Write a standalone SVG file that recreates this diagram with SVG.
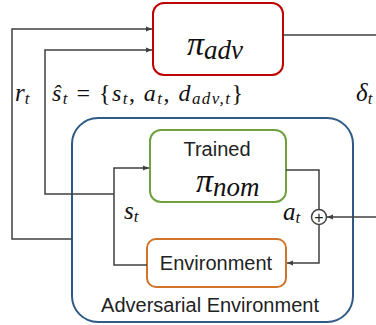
<svg xmlns="http://www.w3.org/2000/svg" width="376" height="325" viewBox="0 0 376 325">
<style>
.box{fill:#fff;stroke-width:2}
.ln{fill:none;stroke:#404040;stroke-width:1.5}
.arr{marker-end:url(#ah)}
.sans{font-family:"Liberation Sans",Arial,sans-serif;fill:#222;font-size:20px}
.math{font-family:"Liberation Serif","DejaVu Serif",serif;font-style:italic;fill:#111}
</style>
<defs>
<marker id="ah" viewBox="0 0 10 10" refX="10" refY="5" markerWidth="6" markerHeight="6" markerUnits="userSpaceOnUse" orient="auto">
<path d="M0,1 L10,5 L0,9 Z" fill="#404040"/>
</marker>
</defs>
<rect width="376" height="325" fill="#fff"/>
<g id="adv-env">
<rect class="box" x="72" y="118" width="281" height="204" rx="26" stroke="#2E5A87"/>
<text class="sans" x="210" y="312" text-anchor="middle">Adversarial Environment</text>
</g>
<g id="pi-adv">
<rect class="box" x="153" y="3" width="130" height="72" rx="11" stroke="#C00000"/>
<text class="math" x="187" y="55" font-size="34">π<tspan font-size="27" dy="4">adv</tspan></text>
</g>
<g id="trained">
<rect class="box" x="150" y="130" width="136" height="72" rx="11" stroke="#70A140"/>
<text class="sans" x="217" y="156" text-anchor="middle">Trained</text>
<text class="math" x="196" y="192" font-size="34">π<tspan font-size="27" dy="4">nom</tspan></text>
</g>
<g id="environment">
<rect class="box" x="147" y="239" width="139" height="48" rx="9" stroke="#D0742C"/>
<text class="sans" x="216" y="270" text-anchor="middle">Environment</text>
</g>
<g id="sum">
<circle cx="319" cy="217" r="7.5" fill="#fff" stroke="#404040" stroke-width="1.5"/>
<text x="319" y="222.5" font-family="'Liberation Sans',sans-serif" font-size="16" text-anchor="middle" fill="#222">+</text>
</g>
<g id="connectors">
<path class="ln arr" d="M72,239 H12 V29 H152"/>
<path class="ln arr" d="M114,194 H45 V50 H152"/>
<path class="ln arr" d="M147,265 H114 V168 H149"/>
<path class="ln" d="M286,170 H319 V209.5"/>
<path class="ln arr" d="M319,224.5 V263 H287"/>
<path class="ln arr" d="M376,217 H327"/>
<path class="ln" d="M283,35 H376"/>
</g>
<g id="labels" class="math">
<text x="15" y="101" font-size="25">r<tspan font-size="17" dy="3">t</tspan></text>
<text x="52" y="101" font-size="24" textLength="191" lengthAdjust="spacing">ŝ<tspan font-size="17" dy="3">t</tspan><tspan dy="-3" font-style="normal"> = {</tspan>s<tspan font-size="17" dy="3">t</tspan><tspan dy="-3" font-style="normal">, </tspan>a<tspan font-size="17" dy="3">t</tspan><tspan dy="-3" font-style="normal">, </tspan>d<tspan font-size="17" dy="3">adv,t</tspan><tspan dy="-3" font-style="normal">}</tspan></text>
<text x="356" y="101" font-size="25">δ<tspan font-size="17" dy="3">t</tspan></text>
<text x="124" y="219" font-size="25">s<tspan font-size="17" dy="3">t</tspan></text>
<text x="283" y="220" font-size="25">a<tspan font-size="17" dy="3">t</tspan></text>
</g>
</svg>
